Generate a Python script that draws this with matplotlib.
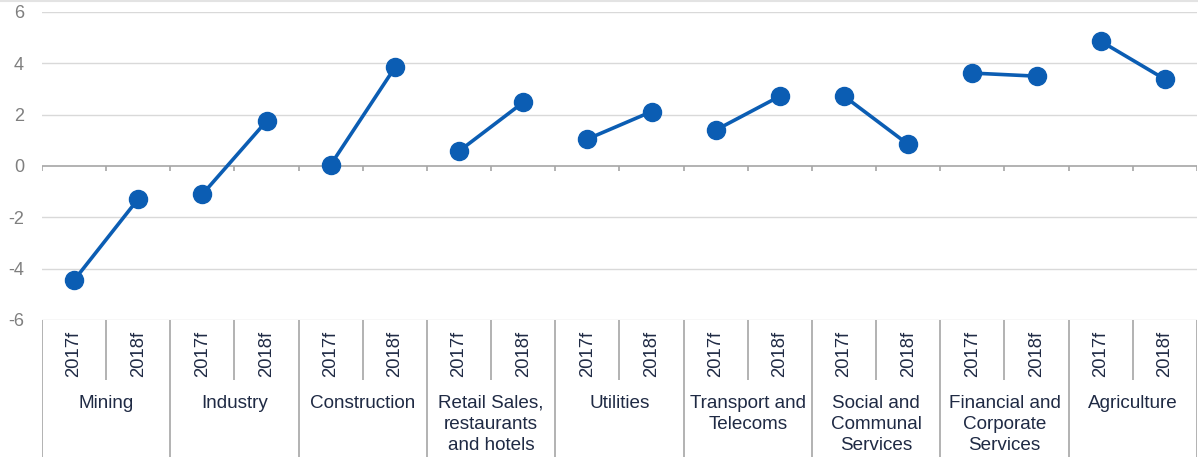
import matplotlib.pyplot as plt
from matplotlib.lines import Line2D

plt.rcParams['font.family'] = ['Liberation Sans', 'DejaVu Sans']

sectors = ['Mining', 'Industry', 'Construction', 'Retail Sales,\nrestaurants\nand hotels',
           'Utilities', 'Transport and\nTelecoms', 'Social and\nCommunal\nServices',
           'Financial and\nCorporate\nServices', 'Agriculture']
years = ['2017f', '2018f']
growth_2017 = [-4.45, -1.1, 0.05, 0.58, 1.05, 1.4, 2.72, 3.62, 4.86]
growth_2018 = [-1.28, 1.75, 3.84, 2.48, 2.12, 2.72, 0.84, 3.5, 3.38]

blue = '#0B5DB3'
navy = '#1F2A44'
W, H = 1198, 457
left, right, top, bottom = 42, 1197, 12, 320

fig = plt.figure(figsize=(W / 100, H / 100), dpi=100)
fig.add_artist(Line2D([0, 1], [1 - 1 / H, 1 - 1 / H], color='#E3E3E3', lw=1.5))
ax = fig.add_axes([left / W, 1 - bottom / H, (right - left) / W, (bottom - top) / H])

n = len(sectors)
ax.set_xlim(0, 2 * n)
ax.set_ylim(-6, 6)
for i in range(n):
    ax.plot([2 * i + 0.5, 2 * i + 1.5], [growth_2017[i], growth_2018[i]],
            color=blue, lw=2.6, marker='o', ms=13, solid_capstyle='round', zorder=3)

for y in [-6, -4, -2, 2, 4, 6]:
    ax.axhline(y, color='#D9D9D9', lw=1, zorder=1)
ax.axhline(0, color='#A6A6A6', lw=1.2, zorder=2)
ax.vlines(range(2 * n + 1), -0.2, 0, color='#A6A6A6', lw=1.2, zorder=2)

for s in ax.spines.values():
    s.set_visible(False)
ax.set_xticks([])
ax.set_yticks(range(-6, 7, 2))
ax.set_yticklabels([str(v) for v in range(-6, 7, 2)])
ax.tick_params(axis='y', length=0, pad=13, labelsize=13, labelcolor='#7F7F7F')

# category table below the plot
tab = fig.add_axes([left / W, 0, (right - left) / W, (H - bottom) / H])
tab.set_xlim(0, 2 * n)
tab.set_ylim(H - bottom, 0)
tab.axis('off')
tab.vlines(range(0, 2 * n + 1, 2), 0, H - bottom, color='#A6A6A6', lw=1.2)
tab.vlines(range(1, 2 * n, 2), 0, 60, color='#A6A6A6', lw=1.2)
for i in range(n):
    for j, yr in enumerate(years):
        tab.text(2 * i + j + 0.5, 34, yr, rotation=90, ha='center', va='center',
                 fontsize=13.3, color=navy)
    tab.text(2 * i + 1, 75, sectors[i], ha='center', va='top', fontsize=13.6,
             color=navy, linespacing=1.32)

fig.savefig('out.png', dpi=100)
